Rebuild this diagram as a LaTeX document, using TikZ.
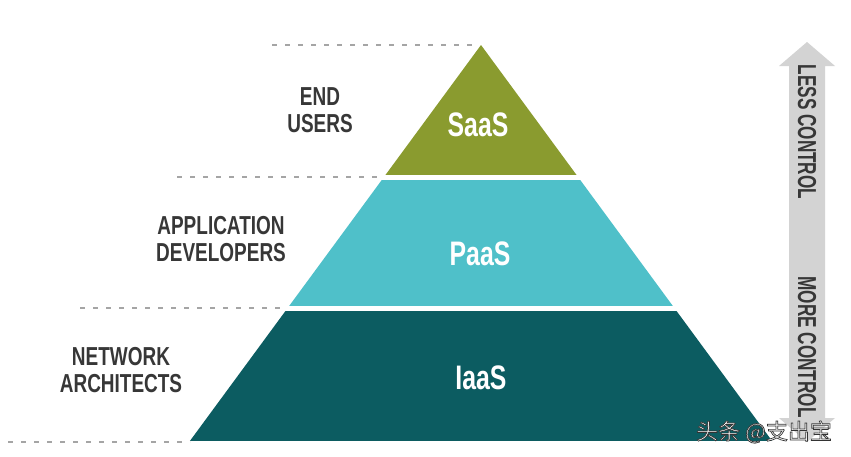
\documentclass[tikz,border=0pt]{standalone}
\usepackage{fontspec}
\setmainfont{Liberation Sans}
\newfontfamily\labelfont{Liberation Sans}[FakeStretch=0.73]
\newfontfamily\arrowfont{Liberation Sans}[FakeStretch=0.66]
\newfontfamily\cjkfont{Noto Sans CJK SC}

\definecolor{saasgreen}{RGB}{138,155,47}
\definecolor{paascyan}{RGB}{79,192,201}
\definecolor{iaasteal}{RGB}{12,92,97}
\definecolor{labelgray}{RGB}{55,55,55}
\definecolor{guidegray}{RGB}{165,165,165}
\definecolor{arrowgray}{RGB}{211,211,211}

% white glyphs with a thin dark outline (fill + stroke render mode)
\newcommand{\outlinedtext}[1]{%
  \special{pdf:literal direct 0.2 0.2 0.2 RG 0.7 w 2 Tr}#1%
  \special{pdf:literal direct 0 Tr}}

\begin{document}
\begin{tikzpicture}[x=1pt,y=-1pt,
  lvl/.style={font=\labelfont\bfseries\fontsize{26}{27}\selectfont,
    text=labelgray, align=center, inner sep=0pt},
  tier/.style={font=\labelfont\bfseries\fontsize{34}{36}\selectfont,
    text=white, inner sep=0pt},
  guide/.style={draw=guidegray, line width=1.1pt, dash pattern=on 5pt off 8pt},
  side/.style={font=\arrowfont\bfseries\fontsize{26}{26}\selectfont,
    text=labelgray, rotate=-90, inner sep=0pt},
  byline/.style={font=\cjkfont\fontsize{22}{22}\selectfont, inner sep=0pt}]

\fill[white] (0,0) rectangle (851,456);
\useasboundingbox (0,0) rectangle (851,456);

% level guide lines
\draw[guide] (272,45) -- (478,45);
\draw[guide] (177,177) -- (383,177);
\draw[guide] (80,308) -- (285,308);
\draw[guide] (8,442) -- (190,442);

% pyramid, cut into three tiers
\begin{scope}
  \clip (481,45) -- (772.1,441) -- (189.9,441) -- cycle;
  \fill[saasgreen] (180,40) rectangle (780,175);
  \fill[paascyan] (180,180) rectangle (780,306);
  \fill[iaasteal] (180,311) rectangle (780,441);
\end{scope}

\node[tier] (saas) at (478,125) {SaaS};
\node[tier] (paas) at (480,254) {PaaS};
\node[tier] (iaas) at (481,378) {IaaS};

% audiences
\node[lvl] (endusers) at (320,110.5) {END\\USERS};
\node[lvl] (appdev) at (221,239.5) {APPLICATION\\DEVELOPERS};
\node[lvl] (netarch) at (121,370.5) {NETWORK\\ARCHITECTS};

% control scale
\fill[arrowgray] (807,42) -- (835,66) -- (825,66) -- (825,418) -- (835,418)
  -- (807,442) -- (779,418) -- (789,418) -- (789,66) -- (779,66) -- cycle;
\node[side] (less) at (807,132) {LESS CONTROL};
\node[side] (more) at (807,347) {MORE CONTROL};

% byline
\node[byline, text=white] (byline) at (764,432) {\outlinedtext{头条 @支出宝}};
\end{tikzpicture}
\end{document}
